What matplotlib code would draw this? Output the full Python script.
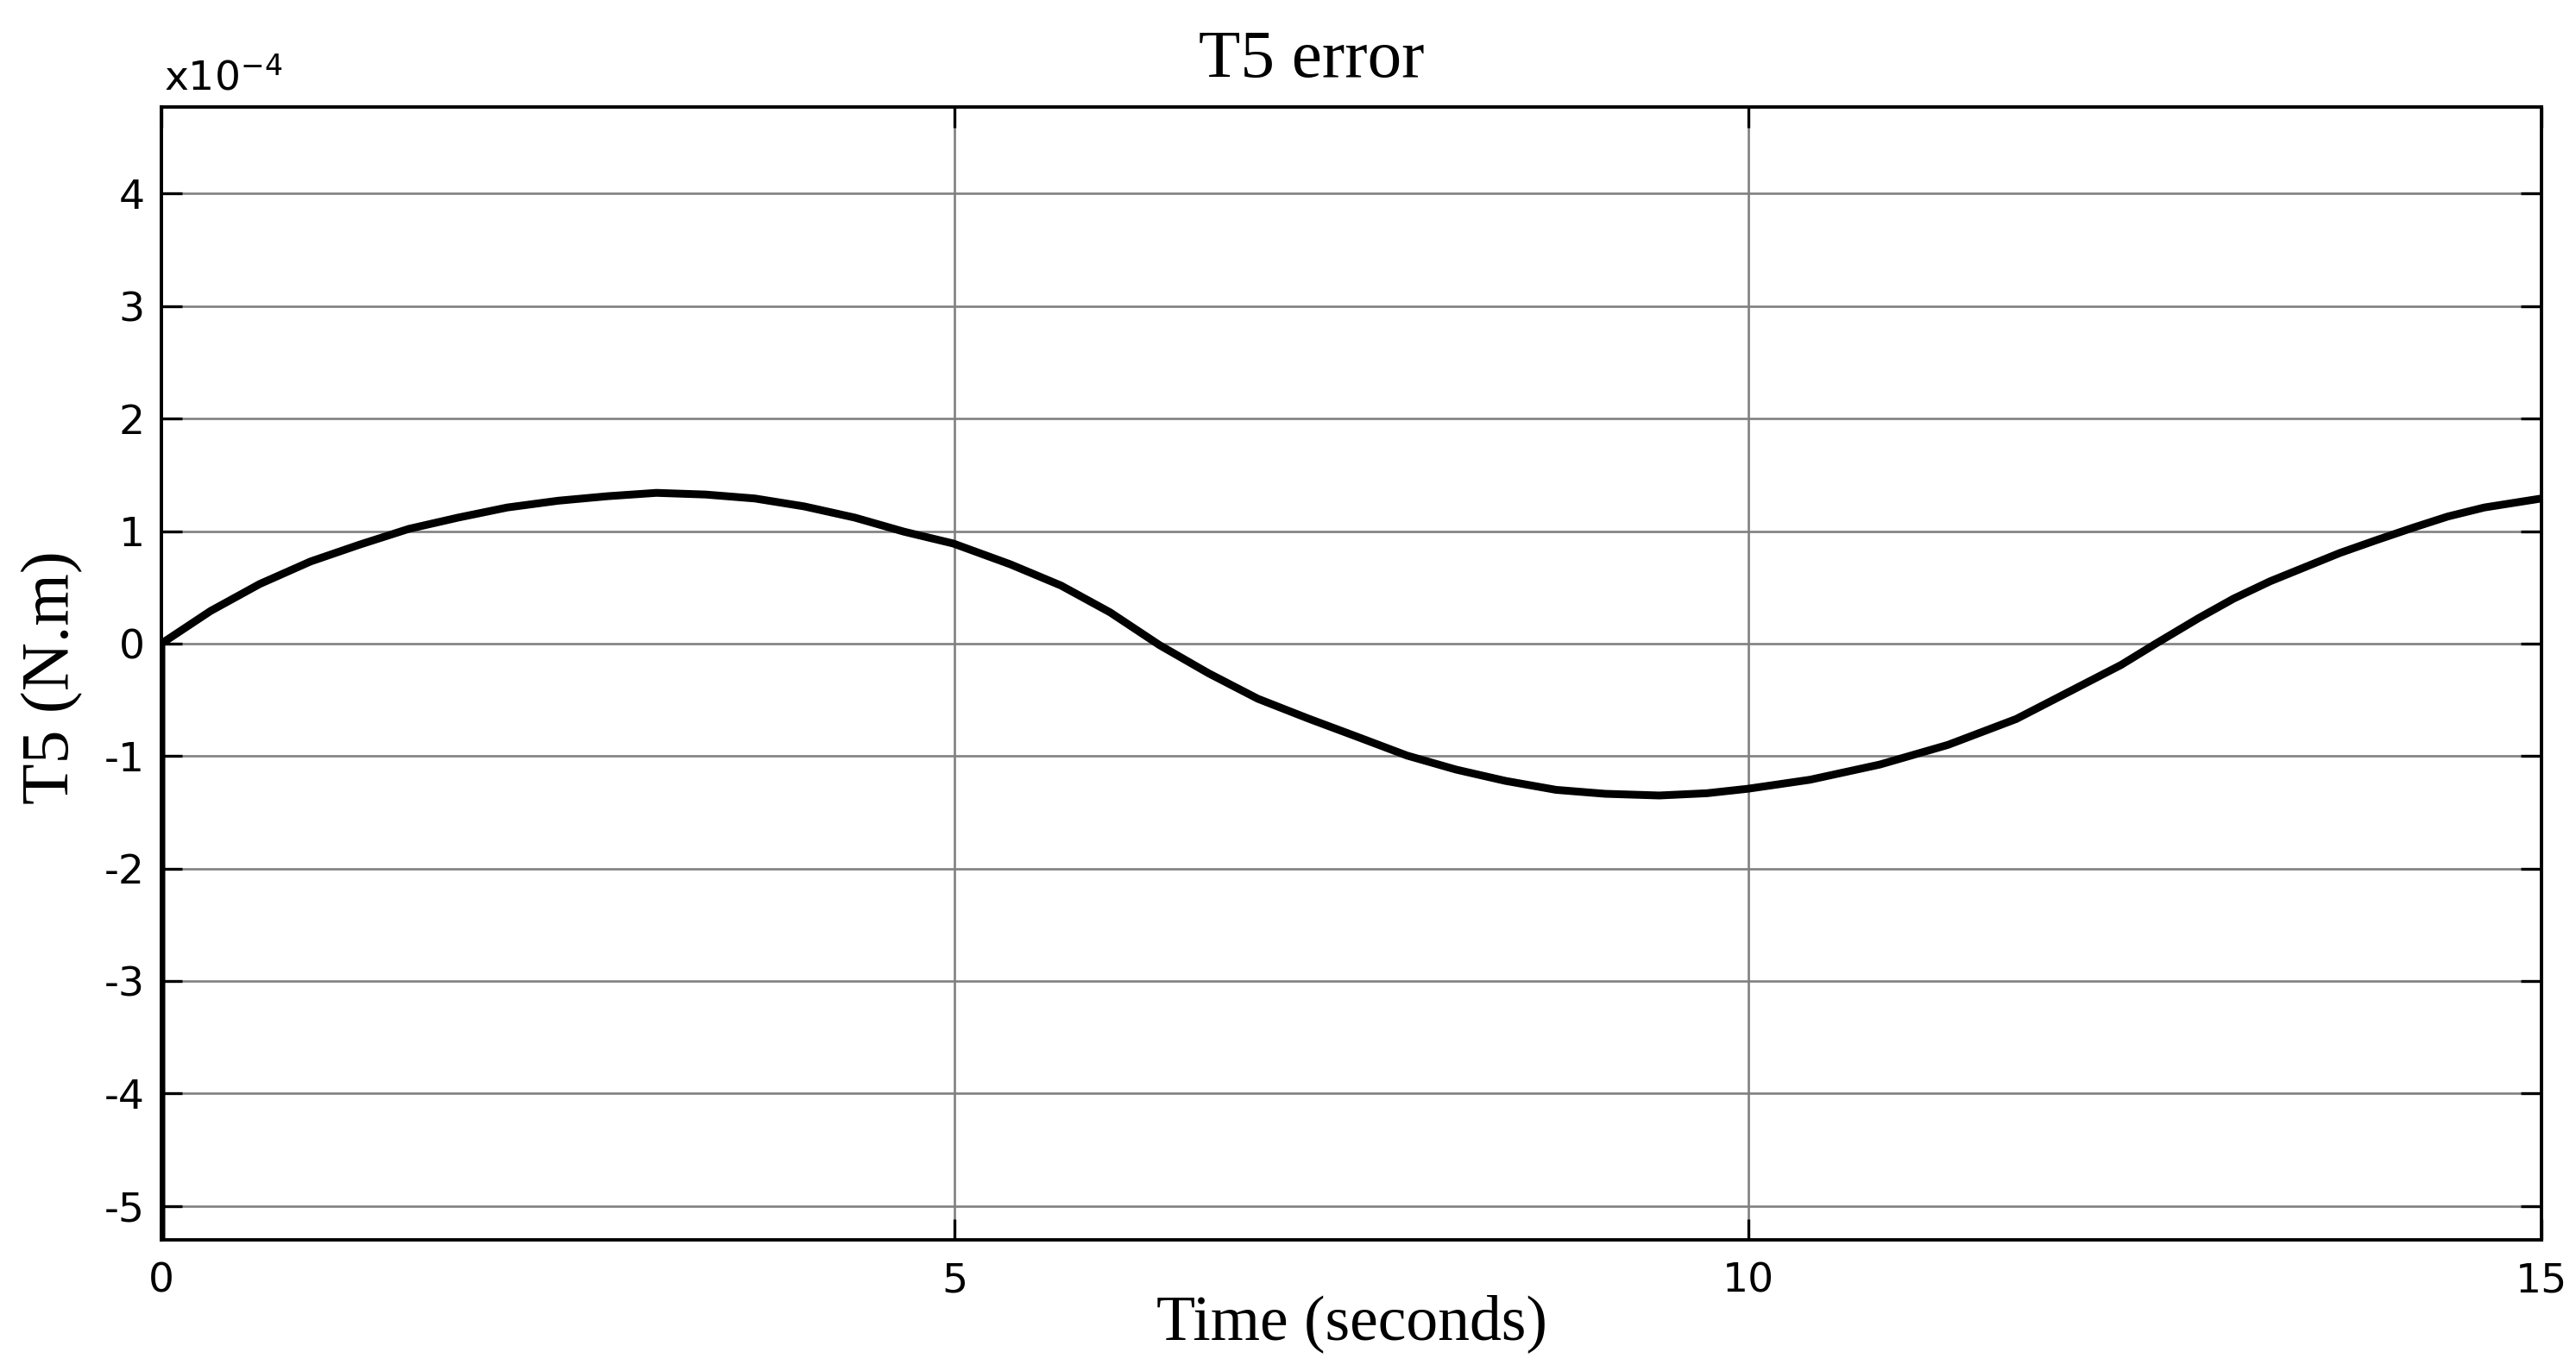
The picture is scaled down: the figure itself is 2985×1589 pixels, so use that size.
import matplotlib
matplotlib.use("Agg")
import matplotlib.pyplot as plt

# Data (values in units of 1e-4 N.m)
time_s = [0.0, 0.0, 0.31, 0.62, 0.94, 1.25, 1.56, 1.87, 2.18, 2.50, 2.81, 3.12, 3.43,
          3.74, 4.05, 4.37, 4.68, 4.99, 5.35, 5.67, 5.98, 6.29, 6.60, 6.91,
          7.23, 7.54, 7.85, 8.16, 8.47, 8.79, 9.10, 9.44, 9.74, 10.0, 10.39,
          10.83, 11.26, 11.69, 12.02, 12.35, 12.57, 12.84, 13.06, 13.29,
          13.51, 13.73, 13.96, 14.19, 14.41, 14.64, 15.0]
t5_error = [-6.0, 0.0, 0.29, 0.53, 0.73, 0.88, 1.02, 1.12, 1.21, 1.27, 1.31, 1.34, 1.325,
            1.29, 1.22, 1.12, 0.995, 0.89, 0.705, 0.516, 0.277, -0.013, -0.264,
            -0.49, -0.667, -0.83, -0.995, -1.12, -1.22, -1.30, -1.335, -1.35,
            -1.33, -1.29, -1.21, -1.075, -0.90, -0.67, -0.43, -0.19, 0.0,
            0.227, 0.40, 0.554, 0.68, 0.806, 0.92, 1.03, 1.13, 1.21, 1.29]
x_ticks = [0, 5, 10, 15]
y_ticks = [-5, -4, -3, -2, -1, 0, 1, 2, 3, 4]

W, H = 2985, 1589
fig = plt.figure(figsize=(W / 100, H / 100), dpi=100)
fig.patch.set_facecolor("white")
ax = fig.add_axes([187 / W, 1 - 1437 / H, (2945 - 187) / W, (1437 - 124) / H])

ax.plot(time_s, t5_error, color="black", linewidth=6.5, solid_joinstyle="round",
        solid_capstyle="round", zorder=3)

ax.set_xlim(0, 15)
ax.set_ylim(-5.30, 4.77)
ax.set_xticks(x_ticks)
ax.set_yticks(y_ticks)
ax.set_xticklabels([str(v) for v in x_ticks])
ax.set_yticklabels([str(v) for v in y_ticks])

ax.grid(True, color="#808080", linewidth=1.9, zorder=1)
ax.set_axisbelow(True)
for sp in ax.spines.values():
    sp.set_linewidth(2.8)
    sp.set_color("black")
    sp.set_zorder(4)

ax.tick_params(axis="both", direction="in", length=17, width=2.4, color="black",
               labelsize=34, top=True, right=True)
ax.tick_params(axis="x", pad=18)
ax.tick_params(axis="y", pad=14)
for lab in ax.get_xticklabels() + ax.get_yticklabels():
    lab.set_family("DejaVu Sans")

serif = ["Liberation Serif", "DejaVu Serif"]
fig.text(0.509, 1 - 89 / H, "T5 error", ha="center", va="baseline",
         fontsize=57, family=serif)
fig.text(1566 / W, 1 - 1552 / H, "Time (seconds)", ha="center", va="baseline",
         fontsize=53, family=serif)
fig.text(61 / W, 1 - 785 / H, "T5 (N.m)", ha="center", va="center",
         rotation=90, fontsize=56, family=serif)

plt.rcParams["mathtext.fontset"] = "dejavusans"
fig.text(190 / W, 1 - 104 / H, r"x10$^{-4}$", ha="left", va="baseline",
         fontsize=34, family="DejaVu Sans")

fig.savefig("out.png", dpi=100, facecolor="white")
